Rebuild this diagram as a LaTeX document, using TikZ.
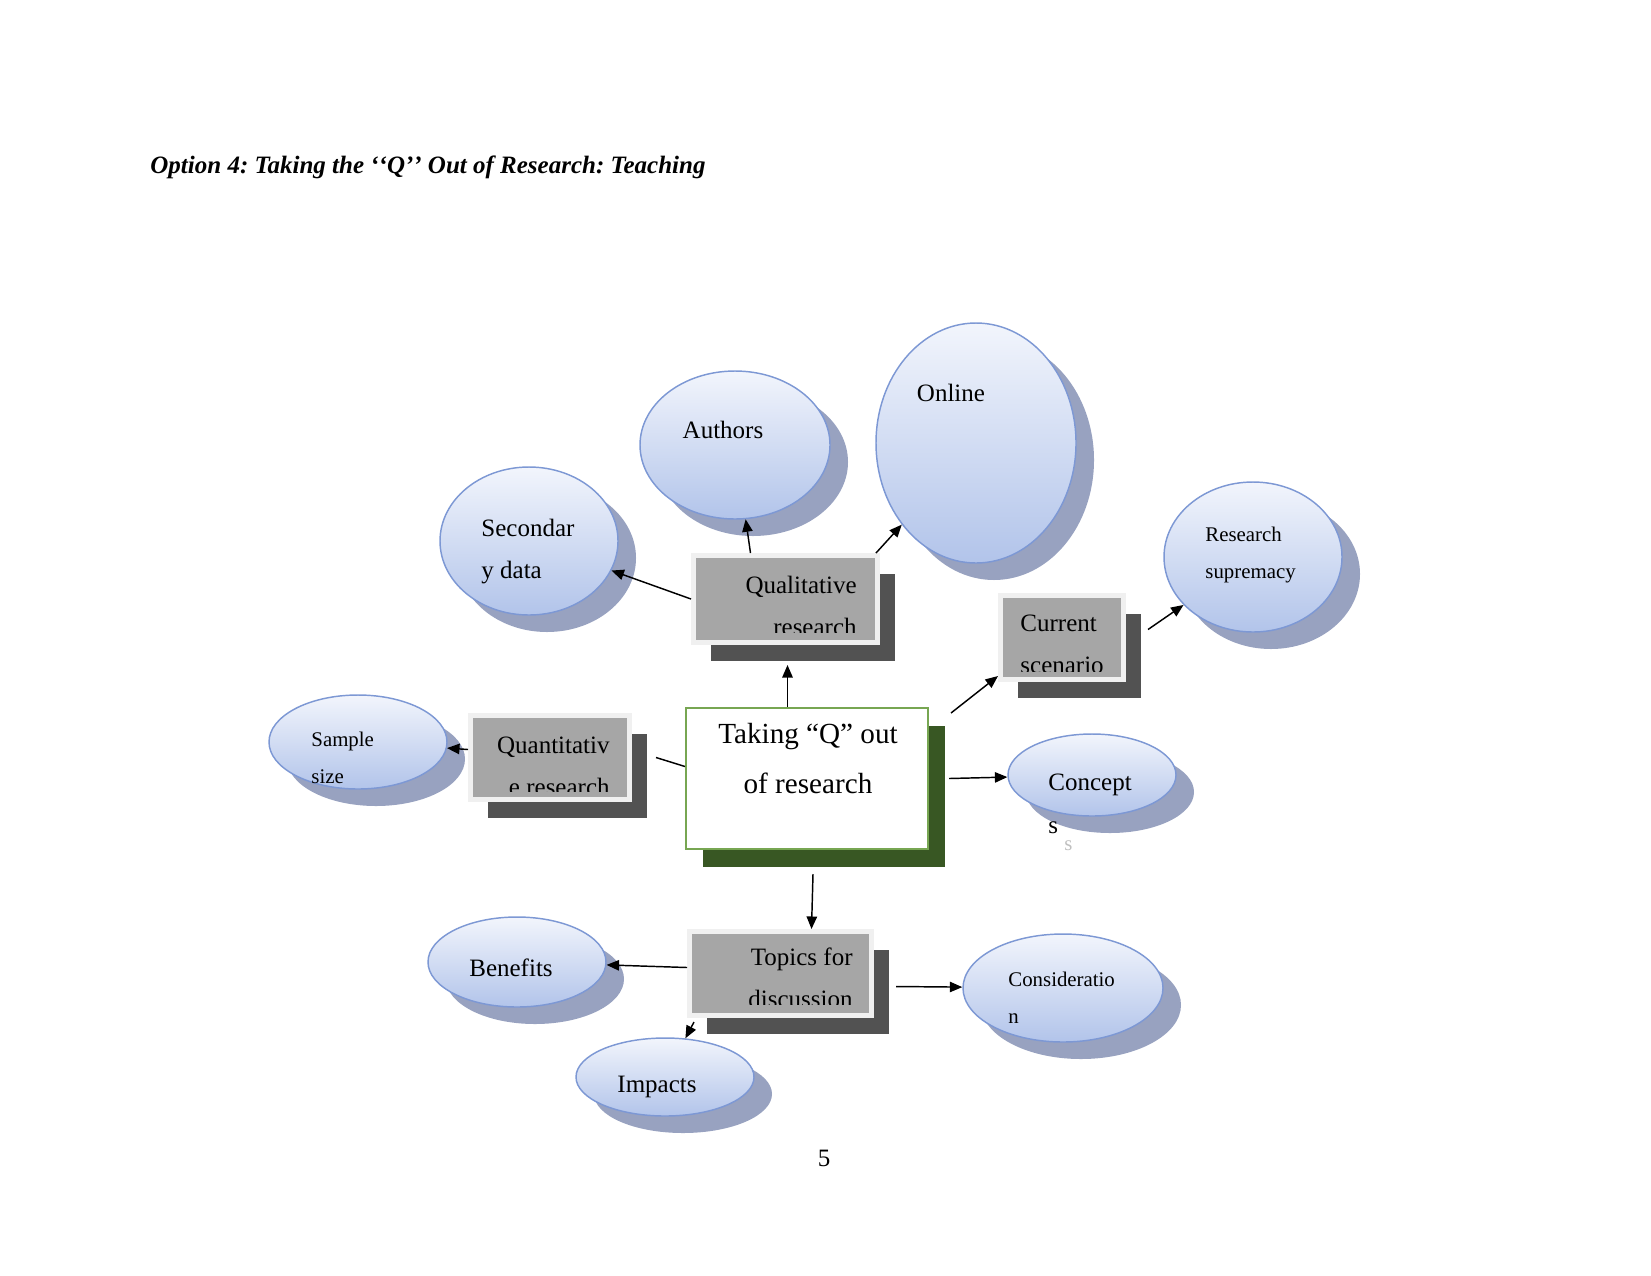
\documentclass[tikz,border=0pt]{standalone}
\usepackage{fontspec}
\setmainfont{Liberation Serif}
\usetikzlibrary{shapes.geometric,shadows,arrows.meta}

\definecolor{ovaltop}{RGB}{242,245,252}
\definecolor{ovalbot}{RGB}{178,196,234}
\definecolor{ovalline}{RGB}{125,152,212}
\definecolor{ovalshade}{RGB}{152,162,192}
\definecolor{boxgrey}{RGB}{166,166,166}
\definecolor{boxframe}{RGB}{240,240,240}
\definecolor{boxshade}{RGB}{82,82,82}
\definecolor{mainline}{RGB}{119,166,82}
\definecolor{mainshade}{RGB}{56,87,35}
\newcommand{\pxu}{0.48pt}
\frenchspacing

\begin{document}
\begin{tikzpicture}[x=0.48pt,y=-0.48pt,
    oval/.style={ellipse,draw=ovalline,line width=0.7pt,top color=ovaltop,bottom color=ovalbot,inner sep=0pt,
        general shadow={fill=ovalshade,shadow xshift=18*\pxu,shadow yshift=-17*\pxu}},
    greybox/.style={rectangle,fill=boxgrey,draw=boxframe,line width=5*\pxu,inner sep=0pt,
        general shadow={fill=boxshade,shadow xshift=17*\pxu,shadow yshift=-18*\pxu}},
    arr/.style={-{Triangle[length=6pt,width=5pt]},line width=0.7pt},
    small/.style={font=\fontsize{10}{17.3}\selectfont,inner sep=0pt},
    big/.style={font=\fontsize{12}{20}\selectfont,inner sep=0pt}]
    \useasboundingbox (0,0) rectangle (1651,1275);

    \node[anchor=base west,inner sep=0pt,font=\fontsize{12}{14}\selectfont\bfseries\itshape] (title) at (150,173)
        {Option 4: Taking the ‘\kern0pt‘Q’\kern0pt’ Out of Research: Teaching};

    % ovals
    \node[oval,minimum width=190*\pxu,minimum height=148*\pxu] (authors) at (735,445) {};
    \node[oval,minimum width=200*\pxu,minimum height=240*\pxu] (online) at (976,443) {};
    \node[oval,minimum width=178*\pxu,minimum height=148*\pxu] (secdata) at (529,541) {};
    \node[oval,minimum width=178*\pxu,minimum height=150*\pxu] (ressup) at (1253,557) {};
    \node[oval,minimum width=178*\pxu,minimum height=94*\pxu] (sample) at (358,742) {};
    \node[oval,minimum width=168*\pxu,minimum height=82*\pxu] (concepts) at (1092,775) {};
    \node[oval,minimum width=200*\pxu,minimum height=108*\pxu] (consid) at (1063,988) {};
    \node[oval,minimum width=178*\pxu,minimum height=90*\pxu] (benefits) at (517,962) {};
    \node[oval,minimum width=178*\pxu,minimum height=78*\pxu] (impacts) at (665,1077) {};

    % two-line nodes sit on their last baseline
    \node[big,anchor=base] (authorsT) at (723,438) {Authors};
    \node[big,anchor=base] (onlineT) at (951,401) {Online};
    \node[big,anchor=base west,align=left] (secdataT) at (481,578) {Secondar\\y data};
    \node[small,anchor=base west,align=left] (ressupT) at (1205,578) {Research\\supremacy};
    \node[small,anchor=base west,align=left] (sampleT) at (311,783) {Sample\\size};
    \node[big,anchor=base west,align=left,font=\fontsize{12}{20.2}\selectfont] (conceptsT) at (1048,833) {Concept\\s};
    \node[small,anchor=base west,text=black!25] (ghostT) at (1064,850) {s};
    \node[small,anchor=base west,align=left] (considT) at (1008,1023) {Consideratio\\n};
    \node[big,anchor=base] (benefitsT) at (511,976) {Benefits};
    \node[big,anchor=base] (impactsT) at (657,1092) {Impacts};

    % grey boxes
    \node[greybox,minimum width=184*\pxu,minimum height=87*\pxu] (qual) at (785.5,599) {};
    \node[greybox,minimum width=123*\pxu,minimum height=84*\pxu] (curr) at (1062,637.5) {};
    \node[greybox,minimum width=159*\pxu,minimum height=84*\pxu] (quant) at (550,757.5) {};
    \node[greybox,minimum width=182*\pxu,minimum height=84*\pxu] (topics) at (780.5,973.5) {};

    \begin{scope}
        \clip (qual.north west) rectangle ([yshift=13*\pxu]qual.south east);
        \node[big,anchor=base east,align=right] (qualT) at (857,635) {Qualitative\\research};
    \end{scope}
    \begin{scope}
        \clip (curr.north west) rectangle ([yshift=11*\pxu]curr.south east);
        \node[big,anchor=base west,align=left] (currT) at (1020,673) {Current\\scenario};
    \end{scope}
    \begin{scope}
        \clip (quant.north west) rectangle ([yshift=11*\pxu]quant.south east);
        \node[big,anchor=base east,align=right] (quantT) at (610,795) {Quantitativ\\e research};
    \end{scope}
    \begin{scope}
        \clip (topics.north west) rectangle ([yshift=14*\pxu]topics.south east);
        \node[big,anchor=base east,align=right] (topicsT) at (853,1007) {Topics for\\discussion};
    \end{scope}

    % centre box
    \node[draw=mainline,line width=2*\pxu,fill=white,minimum width=242*\pxu,minimum height=141*\pxu,
        general shadow={fill=mainshade,shadow xshift=17*\pxu,shadow yshift=-18*\pxu}] (main) at (807,778.5) {};
    \node[font=\fontsize{14}{24}\selectfont,align=center,anchor=base,inner sep=0pt] (mainT) at (808,793)
        {Taking “Q” out\\of research};

    % connectors
    \draw[arr] (qual.west) -- (secdata);
    \draw[arr] ([xshift=-35*\pxu]qual.north) -- (authors);
    \draw[arr] ([xshift=-4*\pxu]qual.north east) -- (online);
    \draw[arr] ([xshift=2*\pxu]main.north -| qual.south) -- ([xshift=2*\pxu,yshift=-20*\pxu]qual.south);
    \draw[line width=0.7pt] ([yshift=12*\pxu]main.west) -- ([xshift=24*\pxu]quant.east);
    \draw[arr] ([yshift=8*\pxu]quant.west) -- (sample);
    \draw[arr] ([xshift=22*\pxu,yshift=-6*\pxu]main.north east) -- ([yshift=6*\pxu]curr.south west);
    \draw[arr] ([xshift=22*\pxu,yshift=8*\pxu]curr.east) -- (ressup);
    \draw[arr] ([xshift=20*\pxu]main.east) -- (concepts);
    \draw[arr] ([xshift=6*\pxu,yshift=-24*\pxu]main.south) -- ([xshift=31*\pxu]topics.north);
    \draw[arr] ([yshift=6*\pxu]topics.west) -- (benefits);
    \draw[arr] ([xshift=22*\pxu,yshift=-13*\pxu]topics.east) -- (consid);
    \draw[arr] ([xshift=7*\pxu,yshift=-4*\pxu]topics.south west) -- (impacts);

    \node[font=\fontsize{12}{14}\selectfont,anchor=base,inner sep=0pt] (pagenum) at (824,1166) {5};
\end{tikzpicture}
\end{document}
